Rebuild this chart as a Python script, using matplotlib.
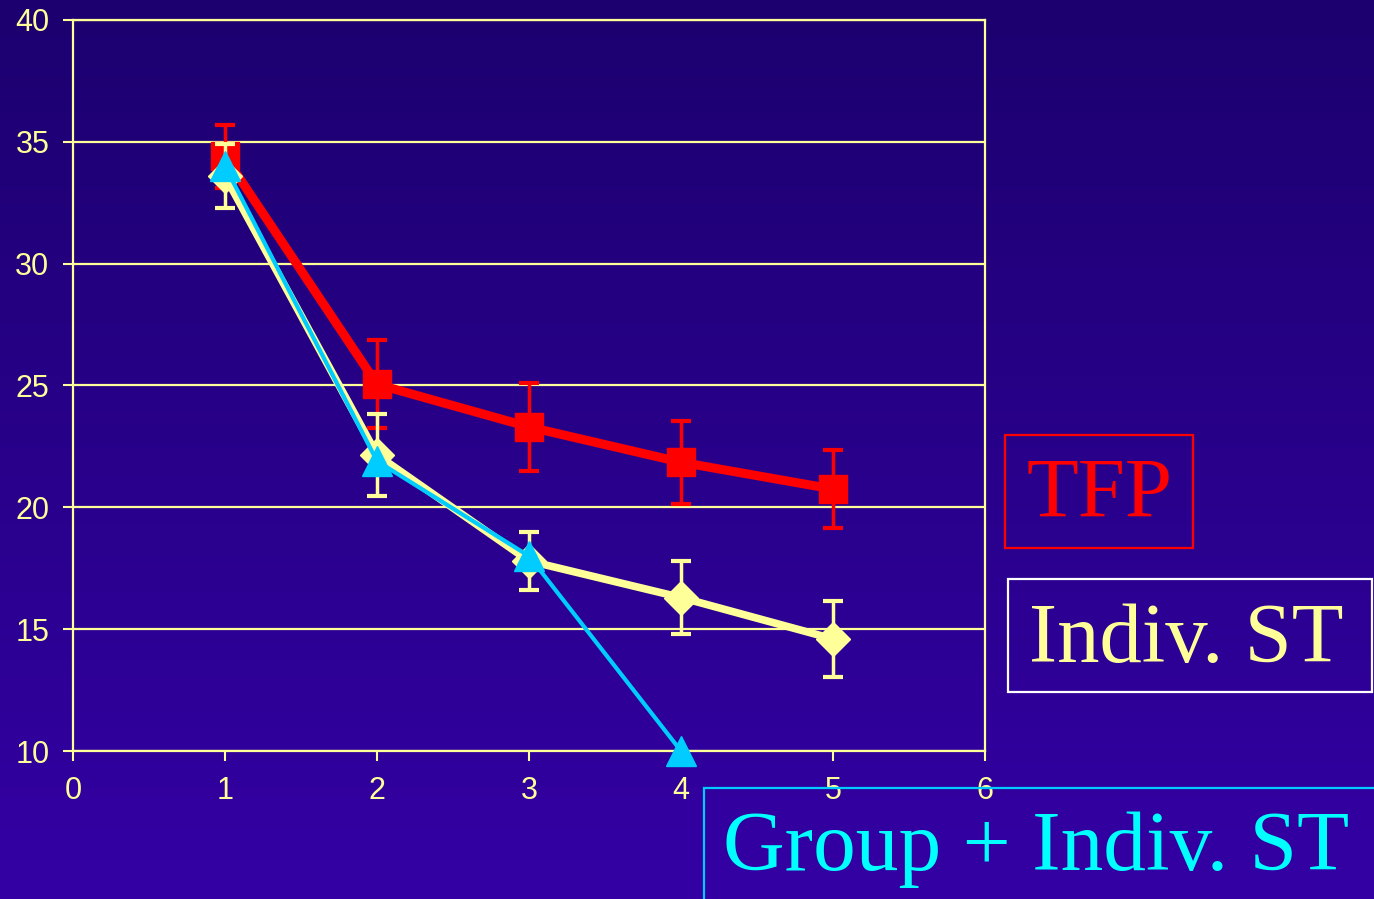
import numpy as np
import matplotlib
matplotlib.use('Agg')
from matplotlib import pyplot as plt
from matplotlib.patches import Rectangle
from matplotlib.colors import LinearSegmentedColormap

# data
x = [1, 2, 3, 4, 5]
tfp = [34.4, 25.05, 23.3, 21.85, 20.75]
tfp_err = [1.3, 1.8, 1.8, 1.7, 1.6]
indiv = [33.6, 22.15, 17.8, 16.3, 14.6]
indiv_err = [1.3, 1.7, 1.2, 1.5, 1.55]
group_x = [1, 2, 3, 4]
group = [34.0, 21.9, 18.0, 10.0]

labels = ['TFP', 'Indiv. ST', 'Group + Indiv. ST']
xticks = [0, 1, 2, 3, 4, 5, 6]
yticks = [10, 15, 20, 25, 30, 35, 40]

pale = '#ffff99'
red = '#ff0000'
cyan = '#00ccff'

fig = plt.figure(figsize=(13.74, 8.99), dpi=100)

# background gradient, dark navy to purple
bg = fig.add_axes([0, 0, 1, 1], zorder=-10)
cmap = LinearSegmentedColormap.from_list('bg', ['#1c006f', '#3400a4'])
bg.imshow(np.linspace(0, 1, 256).reshape(-1, 1), aspect='auto', cmap=cmap,
          extent=[0, 1, 0, 1])
bg.axis('off')

ax = fig.add_axes([0.0531, 0.1646, 0.6638, 0.8132])
ax.patch.set_alpha(0)

ax.errorbar(x, tfp, yerr=tfp_err, color=red, lw=6.5, marker='s', ms=20,
            elinewidth=2.5, capsize=7, capthick=3, zorder=3)
ax.errorbar(x, indiv, yerr=indiv_err, color=pale, lw=5.5, marker='D', ms=17,
            elinewidth=2.5, capsize=7, capthick=3, zorder=4)
ax.plot(group_x, group, color=cyan, lw=3, marker='^', ms=22, zorder=5,
        clip_on=False)

ax.set_xlim(0, 6)
ax.set_ylim(10, 40)
ax.set_xticks(xticks)
ax.set_yticks(yticks)
ax.yaxis.grid(True, color=pale, lw=1.6)
ax.set_axisbelow(True)
for s in ax.spines.values():
    s.set_color(pale)
    s.set_linewidth(1.6)
ax.tick_params(colors=pale, length=7, width=1.5, labelsize=22)
ax.tick_params(axis='x', pad=11)
ax.tick_params(axis='y', pad=10)
for t in ax.get_xticklabels() + ax.get_yticklabels():
    t.set_fontfamily('Liberation Sans')

# labels in boxes on the right
serif = 'Liberation Serif'
fig.patches.append(Rectangle((1005 / 1374, 1 - 548 / 899), 188 / 1374, 113 / 899,
                             transform=fig.transFigure, fill=False, ec=red, lw=1.6))
fig.text(1026 / 1374, 1 - 517 / 899, labels[0], color=red, fontsize=61,
         family=serif, va='baseline')

fig.patches.append(Rectangle((1008 / 1374, 1 - 692 / 899), 364 / 1374, 113 / 899,
                             transform=fig.transFigure, fill=False, ec='white', lw=1.6))
fig.text(1029 / 1374, 1 - 662 / 899, labels[1], color=pale, fontsize=61,
         family=serif, va='baseline')

fig.patches.append(Rectangle((704 / 1374, -0.05), 0.6, 1 - 788 / 899 + 0.05,
                             transform=fig.transFigure, fill=False, ec=cyan, lw=1.6))
fig.text(723 / 1374, 1 - 870 / 899, labels[2], color='#00ffff', fontsize=61.5,
         family=serif, va='baseline')

fig.savefig('out.png', dpi=100)
